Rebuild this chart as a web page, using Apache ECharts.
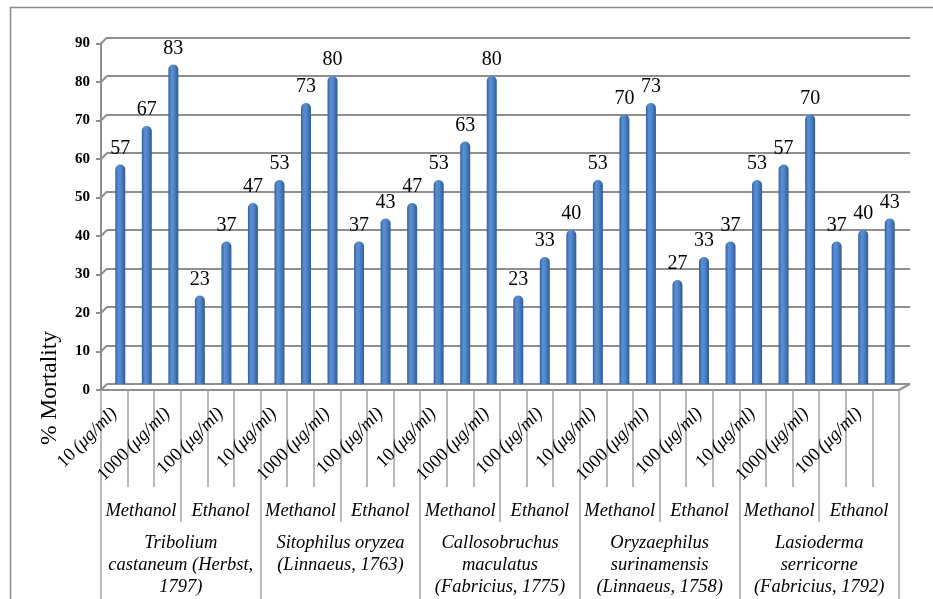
<!DOCTYPE html>
<html>
<head>
<meta charset="utf-8">
<style>
  html, body { margin: 0; padding: 0; background: #ffffff; }
  #chart { width: 933px; height: 599px; }
</style>
<script src="https://cdn.jsdelivr.net/npm/echarts@6/dist/echarts.min.js"></script>
</head>
<body>
<div id="chart"></div>
<script>
// Insecticidal activity of plant extracts: % mortality per species, solvent and dose
const species = [
  'Tribolium\ncastaneum (Herbst,\n1797)',
  'Sitophilus oryzea\n(Linnaeus, 1763)',
  'Callosobruchus\nmaculatus\n(Fabricius, 1775)',
  'Oryzaephilus\nsurinamensis\n(Linnaeus, 1758)',
  'Lasioderma\nserricorne\n(Fabricius, 1792)'
];
const solvents = ['Methanol', 'Ethanol'];
const doses = ['10', '100', '1000'];
const doseUnit = '(μg/ml)';

// mortality (%) for doses 10 / 100 / 1000 μg/ml, one row per species
const methanolMortality = [
  [57, 67, 83],
  [53, 73, 80],
  [53, 63, 80],
  [53, 70, 73],
  [53, 57, 70]
];
const ethanolMortality = [
  [23, 37, 47],
  [37, 43, 47],
  [23, 33, 40],
  [27, 33, 37],
  [37, 40, 43]
];

const yMin = 0, yMax = 90, yStep = 10;
const yTitle = '% Mortality';

// flatten into category rows: species > solvent > dose
const doseCats = [], solventCats = [], values = [];
species.forEach((sp, s) => {
  [methanolMortality[s], ethanolMortality[s]].forEach((row, k) => {
    solventCats.push(solvents[k]);
    row.forEach((v, d) => {
      doseCats.push(doses[d] + ' ' + doseUnit);
      values.push(v);
    });
  });
});

const FONT = "'Liberation Serif', 'Times New Roman', serif";
const GRID_LINE = '#8e8e8e';
const DIVIDER = '#a3a3a3';

const chart = echarts.init(document.getElementById('chart'), null, { renderer: 'canvas' });

const barColor = new echarts.graphic.LinearGradient(0, 0, 1, 0, [
  { offset: 0, color: '#32619f' },
  { offset: 0.3, color: '#5a8fd2' },
  { offset: 0.55, color: '#5087cb' },
  { offset: 1, color: '#2d5b97' }
]);

const option = {
  animation: false,
  backgroundColor: '#ffffff',
  grid: [
    // back wall: horizontal gridlines
    { left: 107, right: 23, top: 37.5, bottom: 215 },
    // bars
    { left: 107, right: 30, top: 37.5, bottom: 215 },
    // front plane: value axis and category axes
    { left: 101, right: 34, top: 43.5, bottom: 209 }
  ],
  xAxis: [
    { gridIndex: 0, type: 'category', data: doseCats, show: false },
    { gridIndex: 1, type: 'category', data: doseCats, show: false },
    {
      gridIndex: 2, type: 'category', data: doseCats, position: 'bottom',
      axisLine: { show: true, lineStyle: { color: GRID_LINE, width: 2 } },
      axisTick: { show: true, interval: 0, length: 97, lineStyle: { color: DIVIDER, width: 1.5 } },
      axisLabel: {
        interval: 1, rotate: 45, margin: 21,
        formatter: function (val) {
          const parts = val.split(' ');
          return '{n|' + parts[0] + '} {i|' + parts.slice(1).join(' ') + '}';
        },
        rich: {
          n: { fontFamily: FONT, fontSize: 18.5, color: '#000', fontStyle: 'normal' },
          i: { fontFamily: FONT, fontSize: 18.5, color: '#000', fontStyle: 'italic' }
        }
      }
    },
    {
      gridIndex: 2, type: 'category', data: solventCats, position: 'bottom',
      axisLine: { show: false },
      axisTick: { show: true, interval: 0, length: 132, lineStyle: { color: DIVIDER, width: 1.5 } },
      axisLabel: {
        interval: 0, margin: 112,
        fontFamily: FONT, fontSize: 18.5, fontStyle: 'italic', color: '#000', lineHeight: 19
      }
    },
    {
      gridIndex: 2, type: 'category', data: species, position: 'bottom',
      axisLine: { show: false },
      axisTick: { show: true, interval: 0, length: 215, lineStyle: { color: DIVIDER, width: 1.5 } },
      axisLabel: {
        interval: 0, margin: 142,
        fontFamily: FONT, fontSize: 18.5, fontStyle: 'italic', color: '#000',
        lineHeight: 22, align: 'center', verticalAlign: 'top'
      }
    }
  ],
  yAxis: [
    {
      gridIndex: 0, type: 'value', min: yMin, max: yMax, interval: yStep,
      axisLine: { show: false }, axisTick: { show: false }, axisLabel: { show: false },
      splitLine: { show: true, lineStyle: { color: GRID_LINE, width: 2 } }
    },
    {
      gridIndex: 1, type: 'value', min: yMin, max: yMax, interval: yStep, show: false,
      splitLine: { show: false }
    },
    {
      gridIndex: 2, type: 'value', min: yMin, max: yMax, interval: yStep,
      axisLine: { show: true, lineStyle: { color: GRID_LINE, width: 2 } },
      axisTick: { show: true, length: 5, lineStyle: { color: GRID_LINE, width: 2 } },
      axisLabel: { margin: 11, fontFamily: FONT, fontSize: 15, fontWeight: 'bold', color: '#000' },
      splitLine: { show: false }
    }
  ],
  series: [
    {
      type: 'bar', xAxisIndex: 1, yAxisIndex: 1, data: values,
      barWidth: 10,
      itemStyle: { color: barColor, borderRadius: [5, 5, 0, 0] },
      label: {
        show: true, position: 'top', distance: 6,
        fontFamily: FONT, fontSize: 20, color: '#000'
      }
    }
  ],
  graphic: [
    {
      type: 'rect', silent: true,
      shape: { x: 10.5, y: 7.5, width: 1000, height: 1000 },
      style: { fill: 'none', stroke: '#8a8a8a', lineWidth: 1.5 }
    },
    {
      // value-axis title, set in the lower half of the wall
      type: 'text', silent: true,
      x: 50, y: 388, rotation: Math.PI / 2,
      style: {
        text: yTitle, fontFamily: FONT, fontSize: 23.5, fill: '#000',
        align: 'center', verticalAlign: 'middle'
      }
    }
  ]
};

chart.setOption(option);

// 3D depth connectors: front value axis to back wall, and the floor's right edge
const connectors = [];
const gridFront = chart.getModel().getComponent('grid', 2).coordinateSystem.getRect();
const gridBack = chart.getModel().getComponent('grid', 0).coordinateSystem.getRect();
for (let v = yMin; v <= yMax; v += yStep) {
  const yf = chart.convertToPixel({ yAxisIndex: 2 }, v);
  const yb = chart.convertToPixel({ yAxisIndex: 0 }, v);
  connectors.push({
    type: 'line', silent: true,
    shape: { x1: gridFront.x, y1: yf, x2: gridBack.x, y2: yb },
    style: { stroke: GRID_LINE, lineWidth: 2 }
  });
}
const yf0 = chart.convertToPixel({ yAxisIndex: 2 }, yMin);
const yb0 = chart.convertToPixel({ yAxisIndex: 0 }, yMin);
connectors.push({
  type: 'line', silent: true,
  shape: { x1: gridFront.x + gridFront.width, y1: yf0, x2: gridBack.x + gridBack.width, y2: yb0 },
  style: { stroke: GRID_LINE, lineWidth: 2 }
});
chart.setOption({ graphic: option.graphic.concat(connectors) });
</script>
</body>
</html>
